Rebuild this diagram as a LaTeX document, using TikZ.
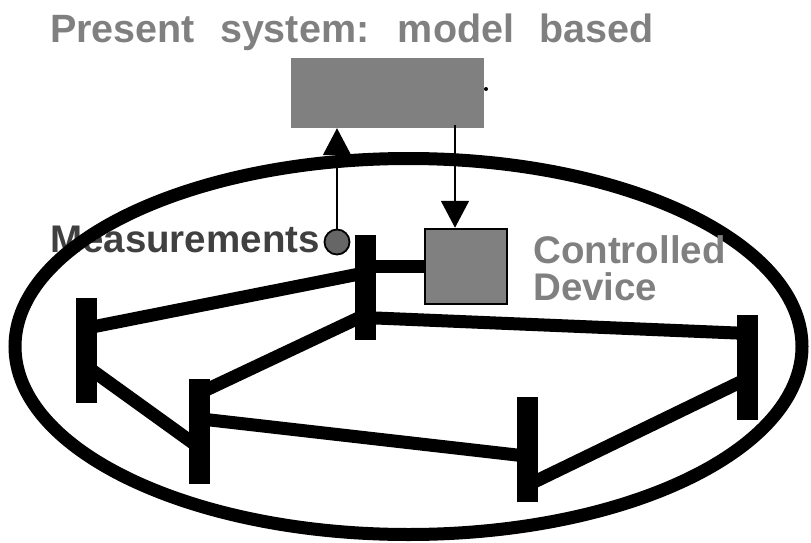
\documentclass[tikz,border=0pt]{standalone}
\usepackage{fontspec}
\setsansfont{Liberation Sans}
\usetikzlibrary{arrows.meta}
\pgfdeclarelayer{background}
\pgfsetlayers{background,main}
\definecolor{boxgray}{gray}{0.5}
\definecolor{textgray}{gray}{0.5}
\definecolor{darkgray}{gray}{0.25}
\definecolor{dotgray}{gray}{0.4}
\begin{document}
\begin{tikzpicture}[x=1pt, y=-1pt,
    bus/.style={rectangle, fill=black, inner sep=0, minimum width=21pt, minimum height=105pt},
    line/.style={line width=13pt, shorten <=-8pt, shorten >=-8pt},
    sig/.style={line width=1.8pt, -{Triangle[width=28pt, length=27pt]}},
    label/.style={inner sep=0, font=\sffamily\bfseries\fontsize{38.5}{37}\selectfont}]
    % 1. Khung hình
    \useasboundingbox (0,0) rectangle (811,543);

    % 2. Tiêu đề và khối mô hình
    \node[label, anchor=base west, text=textgray, font=\sffamily\bfseries\fontsize{39.5}{39}\selectfont]
        (title) at (50,43) {Present\hspace{14pt} system:\hspace{14pt} model\hspace{14pt} based};
    \node[rectangle, fill=boxgray, inner sep=0, minimum width=193pt, minimum height=70pt] (model) at (387.5,93) {};
    \fill (486,89) circle (2pt);

    % 3. Nhãn đo lường (nằm dưới đường elip)
    \node[label, anchor=base east, text=darkgray] (meas) at (320,252) {Measurements};

    % 4. Đường elip bao hệ thống
    \draw[line width=13pt] (408.5,346.5) ellipse [x radius=393.5, y radius=188];

    % 5. Các thanh cái
    \node[bus] (b1) at (365,287.5) {};
    \node[bus] (b2) at (86.5,350.5) {};
    \node[bus] (b3) at (199.5,431) {};
    \node[bus] (b4) at (527.5,449.5) {};
    \node[bus] (b5) at (747,367.5) {};

    % 6. Các đường dây nối thanh cái (vẽ phía sau thanh cái)
    \begin{pgfonlayer}{background}
    \draw[line] ([yshift=12.5pt]b1.west) -- ([yshift=24.5pt]b2.east);
    \draw[line] ([yshift=-32.5pt]b1.west) -- ([yshift=43pt]b3.east);
    \draw[line] ([yshift=-30.5pt]b1.east) -- ([yshift=34.5pt]b5.west);
    \draw[line] ([yshift=-23.5pt]b2.east) -- ([yshift=-9pt]b3.west);
    \draw[line] ([yshift=11pt]b3.east) -- ([yshift=-5.5pt]b4.west);
    \draw[line] ([yshift=-30.5pt]b4.east) -- ([yshift=-16.5pt]b5.west);
    \end{pgfonlayer}

    % 7. Thiết bị điều khiển
    \node[rectangle, draw=black, line width=2.5pt, fill=boxgray, minimum width=82pt, minimum height=75pt] (dev) at (466,266.5) {};
    \draw[line width=13pt] (dev.west) -- (dev.west -| b1.east);
    \node[label, anchor=base west, text=textgray, align=left] (devlabel) at (533,300) {Controlled\\Device};

    % 8. Điểm đo và các mũi tên tín hiệu
    \node[circle, draw=black, line width=1.8pt, fill=dotgray, inner sep=0, minimum size=25pt] (pt) at (337,242) {};
    \coordinate (dn) at ([xshift=-11pt]dev.north);
    \draw[sig] (pt.north) -- (pt.north |- model.south);
    \draw[sig] ([yshift=3pt]model.south -| dn) -- (dn);
\end{tikzpicture}
\end{document}
